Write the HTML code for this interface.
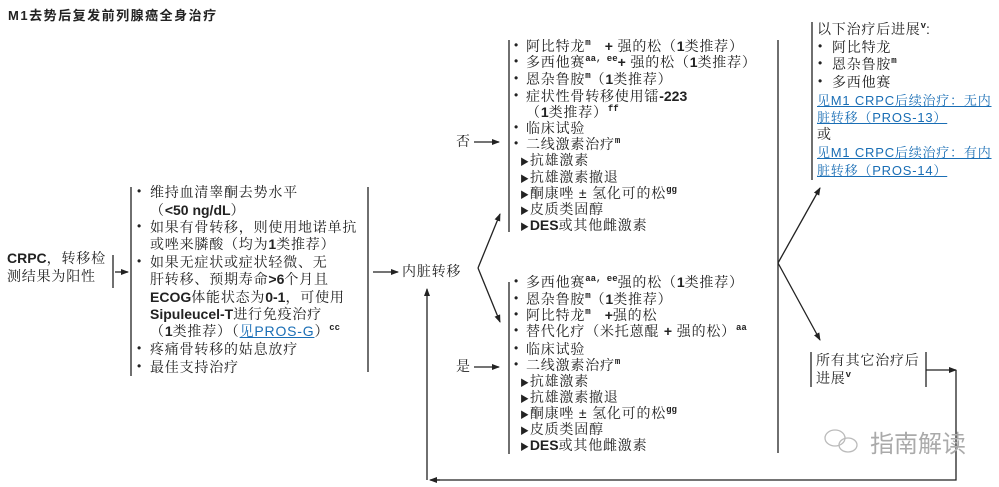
<!DOCTYPE html>
<html><head><meta charset="utf-8"><style>
body{margin:0;width:999px;height:487px;background:#fff;position:relative;overflow:hidden;font-family:"Liberation Sans","Noto Serif CJK SC",serif;color:#222;}
.t{position:absolute;font-size:14px;line-height:17px;white-space:nowrap;letter-spacing:0.8px;}
.b{font-family:"Liberation Sans","Noto Sans CJK SC",sans-serif;font-weight:bold;letter-spacing:0;}
sup{font-family:"Liberation Mono",monospace;font-size:9px;font-weight:bold;vertical-align:6px;line-height:0;letter-spacing:0;}
a{color:#1a6eb5;text-decoration:underline;}
.bul{position:absolute;font-size:12px;}
</style></head><body>
<svg width="999" height="487" style="position:absolute;left:0;top:0">
<defs><marker id="ah" markerWidth="8" markerHeight="8" refX="7" refY="4" orient="auto" markerUnits="userSpaceOnUse"><path d="M0,1 L8,4 L0,7 z" fill="#222"/></marker></defs>
<g stroke="#222" stroke-width="1.3" fill="none">
<line x1="113" y1="255" x2="113" y2="288"/>
<line x1="115" y1="272" x2="128" y2="272" marker-end="url(#ah)"/>
<line x1="131" y1="187" x2="131" y2="376"/>
<line x1="368" y1="187" x2="368" y2="372"/>
<line x1="373" y1="272" x2="398" y2="272" marker-end="url(#ah)"/>
<line x1="478" y1="268" x2="500" y2="322" marker-end="url(#ah)"/>
<line x1="478" y1="268" x2="500" y2="214" marker-end="url(#ah)"/>
<line x1="474" y1="142" x2="499" y2="142" marker-end="url(#ah)"/>
<line x1="474" y1="367" x2="499" y2="367" marker-end="url(#ah)"/>
<line x1="509" y1="40" x2="509" y2="232"/>
<line x1="509" y1="282" x2="509" y2="454"/>
<line x1="778" y1="40" x2="778" y2="453"/>
<line x1="778" y1="263" x2="820" y2="188" marker-end="url(#ah)"/>
<line x1="778" y1="263" x2="820" y2="340" marker-end="url(#ah)"/>
<line x1="812" y1="22" x2="812" y2="180"/>
<line x1="811" y1="352" x2="811" y2="387"/>
<line x1="926" y1="352" x2="926" y2="387"/>
<line x1="926" y1="370" x2="956" y2="370" marker-end="url(#ah)"/>
<polyline points="956,370 956,480 431,480"/>
<line x1="440" y1="480" x2="430" y2="480" marker-end="url(#ah)"/>
<line x1="427" y1="480" x2="427" y2="289" marker-end="url(#ah)"/>
</g>
<g stroke="#bbb" stroke-width="1.3" fill="none">
<ellipse cx="835" cy="438" rx="10" ry="8"/>
<ellipse cx="848" cy="445" rx="9" ry="7"/>
</g>
</svg>
<div class="t b" style="left:8px;top:6px;font-size:13px;letter-spacing:1.5px;font-weight:bold">M1<span style="font-family:'Noto Sans CJK SC',sans-serif">去势后复发前列腺癌全身治疗</span></div>

<div class="t" style="left:7px;top:250px"><span class="b">CRPC</span>，转移检</div>
<div class="t" style="left:7px;top:268px">测结果为阳性</div>

<div class="bul" style="left:137px;top:184px">•</div>
<div class="t" style="left:150px;top:184px">维持血清睾酮去势水平</div>
<div class="t" style="left:150px;top:202px">（<span class="b">&lt;50 ng/dL</span>）</div>
<div class="bul" style="left:137px;top:219px">•</div>
<div class="t" style="left:150px;top:219px">如果有骨转移，则使用地诺单抗</div>
<div class="t" style="left:150px;top:236px">或唑来膦酸（均为<span class="b">1</span>类推荐）</div>
<div class="bul" style="left:137px;top:254px">•</div>
<div class="t" style="left:150px;top:254px">如果无症状或症状轻微、无</div>
<div class="t" style="left:150px;top:271px">肝转移、预期寿命<span class="b">&gt;6</span>个月且</div>
<div class="t" style="left:150px;top:289px"><span class="b">ECOG</span>体能状态为<span class="b">0-1</span>，可使用</div>
<div class="t" style="left:150px;top:306px"><span class="b">Sipuleucel-T</span>进行免疫治疗</div>
<div class="t" style="left:150px;top:323px">（<span class="b">1</span>类推荐）（<a>见PROS-G</a>）<sup>cc</sup></div>
<div class="bul" style="left:137px;top:341px">•</div>
<div class="t" style="left:150px;top:341px">疼痛骨转移的姑息放疗</div>
<div class="bul" style="left:137px;top:359px">•</div>
<div class="t" style="left:150px;top:359px">最佳支持治疗</div>

<div class="t" style="left:402px;top:263px">内脏转移</div>
<div class="t" style="left:456px;top:133px">否</div>
<div class="t" style="left:456px;top:358px">是</div>

<div class="bul" style="left:514px;top:38px">•</div><div class="t" style="left:526px;top:38px">阿比特龙<sup>m</sup>&nbsp;&nbsp;&nbsp;<span class="b">+</span> 强的松（<span class="b">1</span>类推荐）</div>
<div class="bul" style="left:514px;top:54px">•</div><div class="t" style="left:526px;top:54px">多西他赛<sup>aa, ee</sup><span class="b">+</span> 强的松（<span class="b">1</span>类推荐）</div>
<div class="bul" style="left:514px;top:71px">•</div><div class="t" style="left:526px;top:71px">恩杂鲁胺<sup>m</sup>（<span class="b">1</span>类推荐）</div>
<div class="bul" style="left:514px;top:88px">•</div><div class="t" style="left:526px;top:88px">症状性骨转移使用镭<span class="b">-223</span></div>
<div class="t" style="left:526px;top:104px">（<span class="b">1</span>类推荐）<sup>ff</sup></div>
<div class="bul" style="left:514px;top:120px">•</div><div class="t" style="left:526px;top:120px">临床试验</div>
<div class="bul" style="left:514px;top:136px">•</div><div class="t" style="left:526px;top:136px">二线激素治疗<sup>m</sup></div>
<div class="t" style="left:520px;top:152px"><span style="font-size:9px">▶</span>抗雄激素</div>
<div class="t" style="left:520px;top:169px"><span style="font-size:9px">▶</span>抗雄激素撤退</div>
<div class="t" style="left:520px;top:185px"><span style="font-size:9px">▶</span>酮康唑 ± 氢化可的松<sup>gg</sup></div>
<div class="t" style="left:520px;top:201px"><span style="font-size:9px">▶</span>皮质类固醇</div>
<div class="t" style="left:520px;top:217px"><span style="font-size:9px">▶</span><span class="b">DES</span>或其他雌激素</div>

<div class="bul" style="left:514px;top:274px">•</div><div class="t" style="left:526px;top:274px">多西他赛<sup>aa, ee</sup>强的松（<span class="b">1</span>类推荐）</div>
<div class="bul" style="left:514px;top:291px">•</div><div class="t" style="left:526px;top:291px">恩杂鲁胺<sup>m</sup>（<span class="b">1</span>类推荐）</div>
<div class="bul" style="left:514px;top:307px">•</div><div class="t" style="left:526px;top:307px">阿比特龙<sup>m</sup>&nbsp;&nbsp;&nbsp;<span class="b">+</span>强的松</div>
<div class="bul" style="left:514px;top:323px">•</div><div class="t" style="left:526px;top:323px">替代化疗（米托蒽醌 <span class="b">+</span> 强的松）<sup>aa</sup></div>
<div class="bul" style="left:514px;top:341px">•</div><div class="t" style="left:526px;top:341px">临床试验</div>
<div class="bul" style="left:514px;top:357px">•</div><div class="t" style="left:526px;top:357px">二线激素治疗<sup>m</sup></div>
<div class="t" style="left:520px;top:373px"><span style="font-size:9px">▶</span>抗雄激素</div>
<div class="t" style="left:520px;top:389px"><span style="font-size:9px">▶</span>抗雄激素撤退</div>
<div class="t" style="left:520px;top:405px"><span style="font-size:9px">▶</span>酮康唑 ± 氢化可的松<sup>gg</sup></div>
<div class="t" style="left:520px;top:421px"><span style="font-size:9px">▶</span>皮质类固醇</div>
<div class="t" style="left:520px;top:437px"><span style="font-size:9px">▶</span><span class="b">DES</span>或其他雌激素</div>

<div class="t" style="left:817px;top:21px">以下治疗后进展<sup>v</sup>:</div>
<div class="bul" style="left:818px;top:39px">•</div><div class="t" style="left:832px;top:39px">阿比特龙</div>
<div class="bul" style="left:818px;top:56px">•</div><div class="t" style="left:832px;top:56px">恩杂鲁胺<sup>m</sup></div>
<div class="bul" style="left:818px;top:74px">•</div><div class="t" style="left:832px;top:74px">多西他赛</div>
<div class="t" style="left:817px;top:92px;font-size:13px"><a>见M1 CRPC后续治疗：无内</a></div>
<div class="t" style="left:817px;top:109px;font-size:13px"><a>脏转移（PROS-13）</a></div>
<div class="t" style="left:817px;top:126px">或</div>
<div class="t" style="left:817px;top:144px;font-size:13px"><a>见M1 CRPC后续治疗：有内</a></div>
<div class="t" style="left:817px;top:162px;font-size:13px"><a>脏转移（PROS-14）</a></div>

<div class="t" style="left:816px;top:352px">所有其它治疗后</div>
<div class="t" style="left:816px;top:370px">进展<sup>v</sup></div>

<div class="t" style="left:870px;top:428px;font-size:24px;line-height:28px;color:#aaa;font-family:'Noto Sans CJK SC',sans-serif;letter-spacing:0">指南解读</div>
</body></html>
